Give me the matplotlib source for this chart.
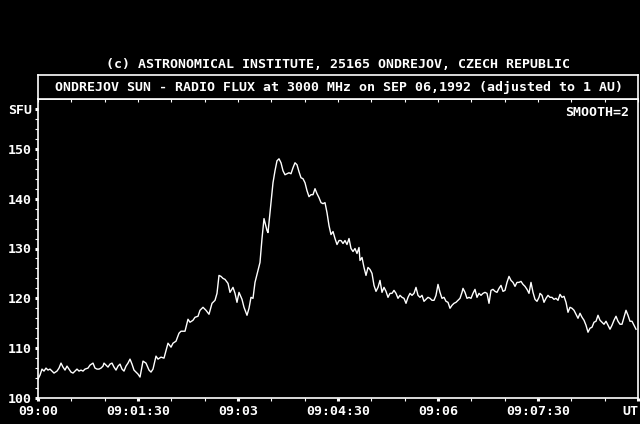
import matplotlib
matplotlib.use("Agg")
import matplotlib.pyplot as plt
from matplotlib.ticker import FixedLocator, NullFormatter

# seconds after 09:00 UT and flux (SFU)
seconds = [
    0, 1.8, 3.6, 5.4, 7.2, 9, 10.8, 12.6, 14.4, 17.1, 18.9, 20.7, 22.5, 24.3,
    26.1, 27.9, 29.7, 31.5, 33.3, 35.1, 36.9, 38.7, 40.5, 42.3, 45, 46.8, 49.5,
    51.3, 53.1, 54.9, 56.7, 58.5, 59.4, 61.2, 63, 64.8, 66.6, 68.4, 70.2, 72,
    73.8, 75.6, 77.4, 79.2, 81, 82.8, 84.6, 86.4, 88.2, 90, 91.8, 94.5, 97.2,
    99.9, 101.7, 103.5, 106.2, 108, 110.7, 113.4, 117, 119.7, 121.5, 124.2,
    126.9, 128.7, 132.3, 135, 136.8, 139.5, 141.3, 144, 145.8, 148.5, 151.2,
    153.9, 156.6, 159.3, 161.1, 162.9, 164.7, 166.5, 168.3, 171, 172.8, 175.5,
    177.3, 179.1, 180.9, 183.6, 185.4, 188.1, 189.9, 191.7, 193.5, 195.3, 198,
    199.8, 201.6, 203.4, 204.3, 206.1, 207, 207.9, 209.7, 211.5, 213.3, 215.1,
    216.9, 218.7, 220.5, 222.3, 224.1, 225.9, 227.7, 229.5, 231.3, 233.1,
    234.9, 236.7, 238.5, 240.3, 242.1, 243.9, 245.7, 247.5, 249.3, 251.1,
    252.9, 254.7, 256.5, 258.3, 260.1, 261.9, 263.7, 265.5, 267.3, 269.1,
    270.9, 272.7, 274.5, 276.3, 278.1, 279.9, 281.7, 283.5, 285.3, 287.1,
    288.9, 289.8, 291.6, 293.4, 295.2, 297, 298.8, 300.6, 302.4, 304.2, 306,
    307.8, 309.6, 311.4, 313.2, 315, 316.8, 318.6, 320.4, 322.2, 324, 325.8,
    327.6, 329.4, 331.2, 333, 334.8, 336.6, 338.4, 340.2, 342, 343.8, 345.6,
    347.4, 349.2, 351, 352.8, 354.6, 356.4, 358.2, 360, 361.8, 363.6, 365.4,
    367.2, 369, 370.8, 372.6, 374.4, 376.2, 378, 379.8, 381.6, 382.5, 384.3,
    386.1, 387.9, 389.7, 391.5, 393.3, 395.1, 396.9, 398.7, 400.5, 402.3,
    404.1, 405.9, 407.7, 409.5, 411.3, 413.1, 414.9, 416.7, 418.5, 420.3,
    422.1, 423.9, 425.7, 427.5, 429.3, 431.1, 432.9, 434.7, 436.5, 438.3,
    440.1, 441.9, 443.7, 445.5, 447.3, 449.1, 450.9, 451.8, 453.6, 455.4,
    457.2, 459, 460.8, 462.6, 464.4, 466.2, 468, 469.8, 471.6, 473.4, 475.2,
    477, 478.8, 480.6, 482.4, 484.2, 486, 487.8, 489.6, 491.4, 493.2, 495,
    496.8, 498.6, 500.4, 502.2, 504, 505.8, 507.6, 509.4, 511.2, 513, 514.8,
    516.6, 518.4, 520.2, 522, 523.8, 525.6, 527.4, 529.2, 531, 532.8, 534.6,
    536.4, 538.2,
]
flux = [
    103.8, 104.6, 105.8, 105.4, 106, 105.6, 105.8, 105.4, 105, 105.4, 106, 107,
    106.2, 105.6, 106.4, 105.8, 105.2, 105, 105.4, 105.8, 105.4, 105.6, 105.4,
    105.8, 106, 106.6, 107, 106, 105.8, 105.8, 106, 106.4, 107, 106.6, 106.2,
    106.8, 107, 106.2, 105.6, 106.4, 106.8, 105.8, 105.4, 106.4, 107, 107.8,
    106.8, 105.6, 105.2, 104.8, 104.2, 107.4, 107, 105.6, 105.2, 105.8, 108.4,
    107.8, 108.2, 108, 111, 110.2, 111, 111.4, 113, 113.4, 113.4, 115.8, 115.2,
    115.6, 116.2, 116.4, 117.6, 118.2, 117.6, 116.8, 119, 119.6, 121, 124.6,
    124.4, 124, 123.8, 123, 121.2, 122.2, 121, 119.2, 121.2, 119.8, 118.2,
    116.6, 118, 120.2, 120, 123.2, 125.6, 127.2, 132, 136, 135.2, 133.6, 133.2,
    135.2, 139.2, 143.2, 145.6, 147.6, 148, 147.2, 145.6, 144.8, 145, 145.2,
    145, 146.2, 147.2, 146.8, 145.4, 144.2, 144, 143.2, 141.6, 140.4, 140.8,
    140.8, 142, 141, 140.2, 139.2, 139, 139.2, 137.2, 134.6, 132.8, 133.4, 132,
    130.8, 131.6, 131.6, 131, 131.6, 130.8, 132, 130, 129.4, 130, 129, 130.2,
    127.6, 128.2, 126.2, 124.6, 126.2, 125.8, 125, 122.6, 121.4, 122.2, 123.6,
    121.2, 122.2, 121.4, 120.2, 121, 121, 121.6, 121, 120, 120.6, 120.2, 120,
    119, 120.2, 121, 120.6, 121, 122.2, 120.6, 120.2, 120.6, 119.4, 119.8,
    120.2, 120, 119.6, 119.6, 120.6, 122.8, 121.2, 120, 120.2, 119.4, 119.2,
    118, 118.6, 119, 119.2, 119.6, 120, 121.2, 122, 121.2, 120, 120.2, 120,
    121, 121.8, 120.2, 121, 120.6, 121, 121.2, 121, 119, 121.6, 121.8, 121.4,
    121.2, 122, 122.6, 121.4, 121.6, 123.2, 124.4, 123.6, 123.2, 122.4, 123.2,
    123.2, 123.4, 122.8, 122.4, 121.8, 121, 123.2, 121.2, 119.8, 119.4, 120.2,
    121, 120.6, 119.2, 120, 120.6, 120.2, 120.2, 119.8, 120, 119.6, 120.8,
    120.2, 120.4, 119.2, 117.2, 118.2, 118, 117.6, 116.8, 116, 117, 116.2,
    115.6, 114.6, 113.2, 114, 114.2, 115.2, 115.4, 116.6, 115.6, 115.2, 114.8,
    115.4, 114.6, 113.8, 114.6, 115.6, 116.4, 115.4, 114.8, 114.8, 116.2,
    117.6, 116.6, 115.4, 115.4, 114.6, 113.8,
]

x_ticks = [0, 90, 180, 270, 360, 450, 540]
x_labels = ["09:00", "09:01:30", "09:03", "09:04:30", "09:06", "09:07:30", "UT"]
y_ticks = [100, 110, 120, 130, 140, 150, 158]
y_labels = ["100", "110", "120", "130", "140", "150", "SFU"]

credit = "(c) ASTRONOMICAL INSTITUTE, 25165 ONDREJOV, CZECH REPUBLIC"
title = "ONDREJOV SUN - RADIO FLUX at 3000 MHz on SEP 06,1992 (adjusted to 1 AU)"

FONT = dict(family="DejaVu Sans Mono", weight="bold", size=9.5, color="white")

fig = plt.figure(figsize=(6.4, 4.24), dpi=100, facecolor="black")
W, H = 640, 424

ax = fig.add_axes([38 / W, 1 - 398 / H, 600 / W, (398 - 99) / H])
ax.set_facecolor("black")
ax.plot(seconds, flux, color="white", lw=1.0)
ax.set_xlim(0, 540)
ax.set_ylim(100, 160)

for s in ax.spines.values():
    s.set_color("white")
    s.set_linewidth(1.2)

ax.set_xticks(x_ticks)
ax.set_xticklabels(x_labels, fontdict=FONT)
ax.get_xticklabels()[-1].set_ha("right")
ax.set_yticks(y_ticks)
ax.set_yticklabels(y_labels, fontdict=FONT)
ax.xaxis.set_minor_locator(FixedLocator(range(0, 541, 30)))
ax.yaxis.set_minor_locator(FixedLocator(range(100, 160, 2)))
ax.tick_params(which="major", direction="out", length=2.2, width=2.2,
               color="white", pad=3)
ax.tick_params(which="minor", direction="out", length=2.2, width=0.8,
               color="white")
ax.tick_params(axis="y", which="major", pad=2)

top = ax.secondary_xaxis("top")
top.set_xticks(list(range(0, 541, 30)))
top.xaxis.set_major_formatter(NullFormatter())
top.tick_params(direction="in", length=2.5, width=0.8, color="white")
top.spines["top"].set_visible(False)

ax.text(0.985, 0.955, "SMOOTH=2", transform=ax.transAxes, ha="right",
        va="center", **FONT)

# title box above the plot
tax = fig.add_axes([38 / W, 1 - 99 / H, 600 / W, 24 / H])
tax.set_facecolor("black")
tax.set_xticks([])
tax.set_yticks([])
for s in tax.spines.values():
    s.set_color("white")
    s.set_linewidth(1.2)
tax.text(0.502, 0.5, title, ha="center", va="center", **FONT)

fig.text(338 / W, 1 - 64 / H, credit, ha="center", va="center", **FONT)

fig.savefig("out.png", dpi=100, facecolor="black")
